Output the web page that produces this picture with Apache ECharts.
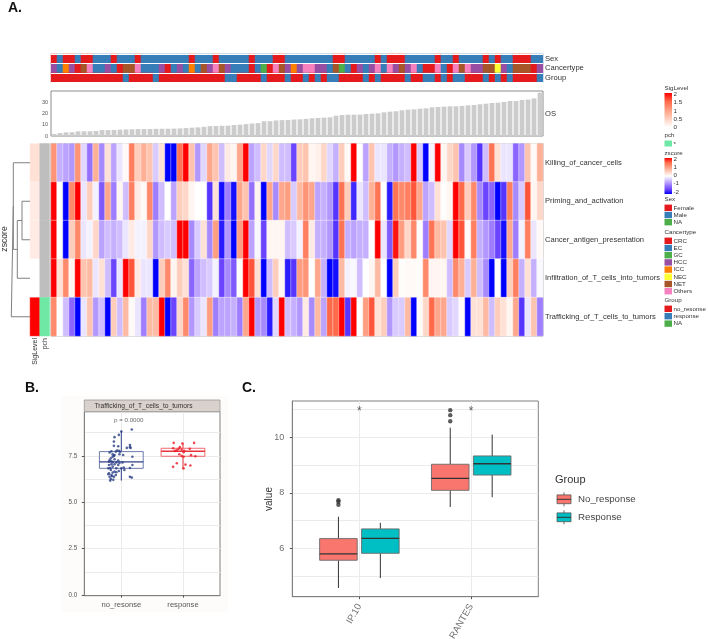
<!DOCTYPE html>
<html>
<head>
<meta charset="utf-8">
<script src="https://cdn.jsdelivr.net/npm/echarts@6/dist/echarts.min.js"></script>
<style>
  html, body { margin: 0; padding: 0; background: #fff; }
  #chart { width: 708px; height: 639px; }
</style>
</head>
<body>
<div id="chart"></div>
<script>
// panel A: row names and zscores, one value per patient
var rowNames = ['Killing_of_cancer_cells', 'Priming_and_activation', 'Cancer_antigen_presentation',
  'Infiltration_of_T_cells_into_tumors', 'Trafficking_of_T_cells_to_tumors'];
var killing = [1.1,-0.6,-0.7,-0.8,1.1,-0.3,-1.1,0.8,-0.9,0.3,-0.7,-0.2,0.05,1.3,0.5,0.8,0.6,-0.4,0.3,-2,-2,1.4,2,0.6,-0.8,-0.3,0.9,0.6,-0.5,0.2,0.1,0.9,2,-0.7,-0.5,0.4,-0.3,0.4,-0.5,-0.5,
  -1.5,0.5,0.6,0.1,0.15,0.4,-0.3,-0.6,0.5,0.05,2,0,-0.7,0.6,-0.2,-0.2,-0.6,-0.8,-0.6,-0.5,2,-0.4,-2,-0.1,2,0.1,0.4,0.6,-0.9,-0.4,-0.8,-1.6,-0.5,1.4,0.3,-0.2,-0.2,-1.2,-0.8,0.6,0.05,0.8];
var priming = [2,0,-2,1.2,2,-0.2,0.5,-0.1,-1.3,0.9,-1,0.1,-0.5,1.3,0.2,0.05,1.2,-1,-0.5,0,-0.7,0.5,0.4,0.1,0,0,-1.6,0.3,-1.9,-1,-1.9,0.9,0.6,-1.1,0.1,-2,0.9,-0.9,0.9,1,
  -0.4,0.7,1.1,0.9,-0.7,-0.6,-0.8,-1.6,1.4,0.5,-1.7,-0.2,-0.5,0.8,1.4,0,-1.8,1.4,1.2,1.3,1.6,0.9,-0.7,-0.5,0.3,0.02,0.1,2,1.5,0.5,1.2,-0.9,-1.5,-1.2,-2,-1.6,1.3,-0.9,-0.4,1.6,0.1,0.4];
var antigen = [2,0,-2,0.5,1.2,-0.2,-0.1,0.4,-0.7,-0.5,-0.6,-0.5,-0.2,0.2,-0.1,-0.1,0.4,-0.8,-0.5,-0.4,-0.5,2,2,-0.9,-0.4,0.3,-0.9,1,-1.8,-0.8,-2,1,2,-0.7,-0.05,-1.5,0.1,0.1,0.1,-0.5,
  -0.4,-0.1,1.3,0.2,-0.6,-0.6,-0.8,-1.6,1.4,-0.6,-0.7,-0.6,-0.6,0,2,-0.2,-1.3,1.9,1,0.4,1.2,0.02,-1,1.4,0.7,0.6,-0.3,2,1.6,0.05,1.3,-0.6,-0.8,-1,-1.5,-1.9,0.9,-1,-0.1,1.3,-0.2,0.05];
var infiltration = [2,0.3,1.2,0.1,2,0.6,0.7,-0.2,0.3,-0.5,-1.5,-0.2,2,1.6,0.2,-0.2,-0.2,-2,0.5,1.2,0.1,0.5,0.3,-1.2,-0.7,-0.5,-0.4,-0.1,-1.5,-0.9,-1.3,0.02,2,1.6,0.3,-2,-0.5,0.5,0.1,-1.8,
  -1.6,1,1.1,0,0.9,-0.6,-2,-1.9,0.7,-0.1,-0.05,-0.5,0,0.1,0.7,0,-2,0.5,0.02,0.05,0.05,0.02,1.2,0.1,0.1,0.1,-0.5,1.2,0.8,-0.4,0.8,-0.5,-0.9,-2,0,-2,0.5,1.3,-0.6,0.3,-0.6,-0.05];
var trafficking = [1.2,0,-0.5,-1.2,-2,-0.2,0.6,-0.8,-0.5,-2,0.5,-0.5,0.7,0.05,-0.2,-1,0.7,0.7,2,-2,-1.5,0.4,1.2,-0.8,-0.4,-0.2,1,-1,-0.7,-0.7,-0.6,-1,0.9,2,-0.8,-0.9,-1.8,-0.3,2,-0.5,
  -0.6,-0.8,0.2,-0.9,0.7,-0.7,1.5,1.5,2,-1.6,2,0,1,1.6,0.3,0.5,-0.8,-0.4,-0.4,0.7,-2,0.05,0.4,1.5,0.9,0.9,-0.4,-0.3,0.05,-2,0.3,0.3,0.7,-0.5,0.5,0.3,0.1,0.9,-1.6,-0.2,0.6,-1];
var zscores = [killing, priming, antigen, infiltration, trafficking];

// annotation tracks, values index into the label lists below
var sexLabels = ['Female', 'Male', 'NA'];
var cancerLabels = ['CRC', 'EC', 'GC', 'HCC', 'ICC', 'NEC', 'NET', 'Others'];
var groupLabels = ['no_resonse', 'response', 'NA'];
var sexTrack = [0,1,0,0,1,0,0,1,1,1,0,1,1,1,0,1,1,1,1,1,1,1,1,0,1,1,1,0,1,1,1,1,1,0,1,1,1,0,0,1,
  1,1,1,1,1,1,1,0,0,1,1,1,1,1,0,1,0,0,0,1,1,1,1,1,0,1,1,0,1,1,1,1,0,1,0,1,1,0,0,0,1,1];
var cancerTrack = [3,1,4,3,0,6,7,1,1,3,1,0,6,6,7,1,1,1,3,0,1,3,1,4,1,6,3,7,6,3,1,1,1,0,1,2,0,7,6,3,
  4,3,7,7,3,3,1,6,2,1,0,3,1,3,7,1,7,3,6,3,7,1,0,0,7,1,0,7,6,7,3,3,6,6,5,3,1,6,6,6,0,3];
var groupTrack = [0,0,0,0,0,0,0,0,0,0,0,0,1,0,0,0,0,1,0,0,0,0,0,0,0,0,0,0,0,1,1,0,0,0,0,1,0,0,0,1,
  0,0,1,0,1,0,1,1,0,0,0,0,1,0,1,0,0,0,0,1,0,0,1,1,0,1,0,1,1,0,0,0,1,0,1,0,1,0,0,0,0,1];
var trackNames = ['Sex', 'Cancertype', 'Group'];
var tracks = [sexTrack, cancerTrack, groupTrack];
var osValues = [1.8,2.6,3.2,3.3,4.1,4.2,4.2,4.4,5.2,5.2,5.3,5.6,5.8,5.9,6.1,6.2,6.2,6.3,6.4,6.4,6.5,6.7,7,7.3,7.6,8.1,8.7,8.8,9,9.1,9.7,10,10.5,11,11.4,13,13.1,13.7,14,14.1,
  14.5,14.7,15.1,15.6,15.9,16.2,16.5,17.9,18.5,18.8,18.8,18.9,19.4,19.7,20,20.9,21.5,21.8,22.7,23.2,23.5,24.1,24.4,25.3,25.6,25.9,26.2,26.2,26.5,27,27.4,28,28.5,29.1,29.4,30,30.9,30.9,31.8,32.1,33.2,38.2];
var sigLevels = [0.3, 0.2, 0.2, 0, 2];
var pchCodes = [0, 0, 0, 0, 1];

// dendrogram merges: [height, row position]
var merges = [
  [[0, 1.5], [8, 1.5], [8, 2.5], [0, 2.5]],
  [[8, 2], [12.7, 2], [12.7, 3.5], [0, 3.5]],
  [[12.7, 2.75], [16.7, 2.75], [16.7, 0.5], [0, 0.5]],
  [[16.7, 1.625], [18.7, 1.625], [18.7, 4.5], [0, 4.5]]
];

// panel B
var bNames = ['no_resonse', 'response'];
var bBoxes = [[6.17, 6.83, 7.18, 7.73, 8.85], [6.78, 7.48, 7.75, 7.91, 8.2]];
var bNoResp = [[1.17,8.92],[1,8.81],[.96,8.63],[.89,8.51],[.88,8.27],[.88,8.04],[.95,8.02],[1.14,8.08],[1.14,7.97],[1.09,7.93],[1.15,7.93],[.84,7.75],[.91,7.73],[.93,7.79],[.96,7.77],[.98,7.72],[.81,7.68],[.86,7.59],[.89,7.55],[1.03,7.55],[1.18,7.45],[.86,7.46],[.88,7.5],[.97,7.59],[.83,7.37],[.81,7.28],[.89,7.32],[.95,7.25],[.84,7.21],[.8,7.19],[.86,7.16],[.92,7.14],[.97,7.12],[1.02,7.14],[.84,7.05],[.89,7.05],[.95,7.01],[1.18,7.01],[.8,7.01],[.86,6.92],[.82,6.85],[.92,6.83],[.79,6.83],[1,6.83],[1.04,6.87],[1.14,6.85],[1.05,6.74],[.83,6.74],[.89,6.65],[.96,6.69],[.8,6.56],[.86,6.6],[.92,6.62],[.79,6.51],[.84,6.47],[.91,6.47],[.81,6.38],[.85,6.42],[.88,6.37],[1.14,6.37],[1.17,6.33],[.83,6.26],[.87,6.21],[.82,6.17]];
var bResp = [[1.85,8.2],[1.99,8.17],[2.18,8.2],[1.84,7.91],[1.95,7.97],[1.93,7.88],[1.9,7.81],[1.87,7.77],[1.98,7.84],[2.02,7.77],[2.11,7.88],[2.01,7.7],[1.94,7.59],[1.98,7.5],[2.01,7.45],[2.13,7.54],[2.2,7.48],[1.9,7.1],[1.84,6.91],[2.04,7.03],[2.12,6.98],[2.01,6.83]];

// panel C
var cNames = ['IP.10', 'RANTES'];
var cNoResponse = [[4.57, 5.57, 5.8, 6.35, 7.14], [7.49, 8.09, 8.52, 9.03, 10.35]];
var cResponse = [[4.93, 5.82, 6.36, 6.7, 6.92], [7.84, 8.64, 9.05, 9.33, 10.1]];
var cOutliers = [[1, 7.73], [1, 7.68], [1, 7.57], [2, 10.98], [2, 10.8], [2, 10.58]];
var cStars = [[1, 11], [2, 11]];

var FONT = '"Liberation Sans", Arial, sans-serif';
var palette = ['#E41A1C', '#377EB8', '#4DAF4A', '#984EA3', '#FF7F00', '#FFFF33', '#A65628', '#F781BF'];
var zColors = ['#0000FF', '#6B44FF', '#9E7DFF', '#CFBDFF', '#FFFFFF', '#FFCDBB', '#FF9E81', '#FF6A4A', '#FF0000'];
var sigColors = ['#FFFFFF', '#FFCDBB', '#FF9E81', '#FF6A4A', '#FF0000'];
var frame = '#8c8c8c';

var patients = zscores[0].map(function (d, i) { return i; });
var grids = [], xAxes = [], yAxes = [], series = [];

function hiddenCat(data, extra) {
  return Object.assign({
    type: 'category', data: data, axisLine: { show: false }, axisTick: { show: false },
    axisLabel: { show: false }, splitLine: { show: false }
  }, extra || {});
}

// annotation tracks
grids.push({ left: 51, top: 54, width: 492, height: 28.5 });
xAxes.push(hiddenCat(patients, { gridIndex: 0 }));
yAxes.push(hiddenCat(trackNames, {
  gridIndex: 0, inverse: true, position: 'right', z: 5,
  axisLabel: { show: true, interval: 0, fontSize: 7.6, fontFamily: FONT, color: '#333', margin: 2 },
  splitLine: { show: true, interval: 0, lineStyle: { color: '#fff', width: 1 } }
}));
var trackData = [];
tracks.forEach(function (track, r) {
  track.forEach(function (code, c) {
    trackData.push({ value: [c, r, code], itemStyle: { color: palette[code] } });
  });
});
series.push({ type: 'heatmap', xAxisIndex: 0, yAxisIndex: 0, data: trackData });

// OS bars
grids.push({ left: 51, top: 91, width: 492, height: 45, show: true, borderColor: frame, borderWidth: 1 });
xAxes.push(hiddenCat(patients, { gridIndex: 1 }));
yAxes.push({
  type: 'value', gridIndex: 1, min: 0, max: 39.7, position: 'left', splitLine: { show: false },
  axisLine: { show: false },
  axisTick: { length: 2, customValues: [0, 10, 20, 30], lineStyle: { color: '#555' } },
  axisLabel: { customValues: [0, 10, 20, 30], fontSize: 5.5, fontFamily: FONT, color: '#555', margin: 3 }
});
yAxes.push(hiddenCat(['OS'], {
  gridIndex: 1, position: 'right',
  axisLabel: { show: true, fontSize: 7.6, fontFamily: FONT, color: '#333', margin: 2 }
}));
series.push({
  type: 'bar', xAxisIndex: 1, yAxisIndex: 1, data: osValues, barWidth: 4.8,
  itemStyle: { color: '#CCCCCC' }
});

// zscore heatmap
grids.push({ left: 51, top: 143.5, width: 492, height: 192.5, show: true, borderColor: frame, borderWidth: 1 });
xAxes.push(hiddenCat(patients, { gridIndex: 2 }));
yAxes.push(hiddenCat(rowNames, {
  gridIndex: 2, inverse: true, position: 'right',
  axisLabel: { show: true, interval: 0, fontSize: 7.55, fontFamily: FONT, color: '#333', margin: 2 }
}));
var heatData = [];
zscores.forEach(function (row, r) {
  row.forEach(function (v, c) { heatData.push([c, r, v]); });
});
var heatIndex = series.length;
series.push({
  type: 'heatmap', xAxisIndex: 2, yAxisIndex: 3, data: heatData,
  itemStyle: { borderColor: 'rgba(255,255,255,0.75)', borderWidth: 0.5 }
});

// SigLevel and pch side columns
grids.push({ left: 30, top: 143.5, width: 19.5, height: 192.5 });
xAxes.push(hiddenCat(['SigLevel', 'pch'], {
  gridIndex: 3,
  axisLabel: { show: true, interval: 0, rotate: 90, fontSize: 7, fontFamily: FONT, color: '#333', margin: 2 }
}));
yAxes.push(hiddenCat(rowNames, { gridIndex: 3, inverse: true }));
var sigIndex = series.length;
series.push({
  type: 'heatmap', xAxisIndex: 3, yAxisIndex: 4,
  data: sigLevels.map(function (v, r) { return [0, r, v]; }),
  itemStyle: { borderColor: '#fff', borderWidth: 0.3 }
});
series.push({
  type: 'heatmap', xAxisIndex: 3, yAxisIndex: 4,
  data: pchCodes.map(function (code, r) {
    return { value: [1, r, code], itemStyle: { color: code ? '#6FE8A6' : '#BEBEBE' } };
  })
});

// dendrogram
grids.push({ left: 10, top: 143.5, width: 20, height: 192.5 });
xAxes.push({ type: 'value', gridIndex: 4, min: 0, max: 20, inverse: true, show: false });
yAxes.push({ type: 'value', gridIndex: 4, min: 0, max: 5, inverse: true, show: false });
merges.forEach(function (m) {
  series.push({
    type: 'line', xAxisIndex: 4, yAxisIndex: 5, data: m, symbol: 'none', silent: true,
    lineStyle: { color: '#808080', width: 1 }
  });
});

// box drawing shared by B and C
function boxSeries(xi, yi, rows, dodge, half, fill, line, median, medianWidth) {
  return {
    type: 'custom', xAxisIndex: xi, yAxisIndex: yi,
    data: rows.map(function (b, i) { return [i + 1].concat(b); }),
    encode: { x: 0, y: [1, 2, 3, 4, 5] },
    renderItem: function (params, api) {
      var x = api.value(0) + dodge;
      var cx = api.coord([x, 0])[0], x0 = api.coord([x - half, 0])[0], x1 = api.coord([x + half, 0])[0];
      var lo = api.coord([x, api.value(1)])[1], q1 = api.coord([x, api.value(2)])[1];
      var med = api.coord([x, api.value(3)])[1], q3 = api.coord([x, api.value(4)])[1];
      var hi = api.coord([x, api.value(5)])[1];
      var ls = { stroke: median, lineWidth: 1, fill: null };
      return {
        type: 'group',
        children: [
          { type: 'line', shape: { x1: cx, y1: lo, x2: cx, y2: q1 }, style: ls },
          { type: 'line', shape: { x1: cx, y1: q3, x2: cx, y2: hi }, style: ls },
          { type: 'rect', shape: { x: x0, y: q3, width: x1 - x0, height: q1 - q3 }, style: { fill: fill, stroke: line, lineWidth: 0.9 } },
          { type: 'line', shape: { x1: x0, y1: med, x2: x1, y2: med }, style: { stroke: median, lineWidth: medianWidth } }
        ]
      };
    }
  };
}

function boxPanel(gi, top, left, width, height, yMin, yMax, lines, major, names, tickFont, catFont, rotate, textColor, tickMargin) {
  grids.push({ left: left, top: top, width: width, height: height, outerBoundsMode: 'none', show: true, borderColor: '#808080', borderWidth: 1, backgroundColor: '#fff' });
  xAxes.push({
    type: 'value', gridIndex: gi, min: 0.4, max: 2.6, position: 'bottom',
    axisLine: { lineStyle: { color: '#808080' } },
    axisTick: { customValues: [1, 2], length: 2.5, lineStyle: { color: '#555' } },
    axisLabel: {
      customValues: [1, 2], rotate: rotate, fontSize: catFont, fontFamily: FONT, color: textColor,
      margin: rotate ? 8 : 5, lineHeight: rotate ? 20 : catFont,
      formatter: function (v) { return names[v - 1]; }
    },
    splitLine: { show: true, lineStyle: { color: '#EBEBEB', width: 1 } }
  });
  yAxes.push({
    type: 'value', gridIndex: gi, min: yMin, max: yMax, position: 'left',
    axisLine: { show: false }, axisTick: { show: false, customValues: lines }, axisLabel: { show: false, customValues: lines },
    splitLine: { show: true, lineStyle: { color: '#EBEBEB', width: 1 } }
  });
  yAxes.push({
    type: 'value', gridIndex: gi, min: yMin, max: yMax, position: 'left',
    axisLine: { lineStyle: { color: '#808080' } },
    axisTick: { customValues: major, length: 2.5, lineStyle: { color: '#555' } },
    axisLabel: {
      customValues: major, fontSize: tickFont, fontFamily: FONT, color: textColor, margin: tickMargin,
      formatter: function (v) { return rotate ? String(v) : v.toFixed(1); }
    },
    splitLine: { show: false }
  });
}

// panel B
boxPanel(5, 411.7, 84.3, 135.7, 184, -0.03, 9.88, [0, 1.25, 2.5, 3.75, 5, 6.25, 7.5, 8.75], [0, 2.5, 5, 7.5], bNames, 6.3, 7.6, 0, '#555', 7);
var bY = yAxes.length - 2;
series.push(boxSeries(5, bY, [bBoxes[0]], 0, 0.355, 'rgba(255,255,255,0)', '#5A6CA6', '#2B3F86', 1.3));
series.push(boxSeries(5, bY, [bBoxes[1]], 1, 0.355, 'rgba(255,255,255,0)', '#EE5A60', '#E8343C', 1.3));
series.push({ type: 'scatter', xAxisIndex: 5, yAxisIndex: bY, data: bNoResp, symbolSize: 2.6, itemStyle: { color: '#2B3F86' } });
series.push({ type: 'scatter', xAxisIndex: 5, yAxisIndex: bY, data: bResp, symbolSize: 2.6, itemStyle: { color: '#EE1C25' } });
series.push({
  type: 'scatter', xAxisIndex: 5, yAxisIndex: bY, data: [[1.12, 9.4]], symbolSize: 0,
  label: { show: true, position: 'inside', formatter: 'p = 0.0000', fontSize: 6.2, fontFamily: FONT, color: '#444' }
});

// panel C
boxPanel(6, 401, 292.3, 246, 195.7, 4.256, 11.31, [5, 6, 7, 8, 9, 10, 11], [6, 8, 10], cNames, 9, 9.5, 60, '#6e6e6e', 8);
var cY = yAxes.length - 2;
var DODGE = 0.1875;
series.push(boxSeries(6, cY, cNoResponse, -DODGE, 0.168, '#F8766D', '#6a6a6a', '#333', 1.4));
series.push(boxSeries(6, cY, cResponse, DODGE, 0.168, '#00BFC4', '#6a6a6a', '#333', 1.4));
series.push({
  type: 'scatter', xAxisIndex: 6, yAxisIndex: cY, symbolSize: 4.4, itemStyle: { color: '#333' },
  data: cOutliers.map(function (p) { return [p[0] - DODGE, p[1]]; })
});
series.push({
  type: 'scatter', xAxisIndex: 6, yAxisIndex: cY, data: cStars, symbolSize: 0,
  label: { show: true, position: 'inside', formatter: '*', fontSize: 12, offset: [0, 2], fontFamily: FONT, color: '#333' }
});

// legends and free text
var gfx = [];
function text(x, y, s, size, opts) {
  gfx.push({
    type: 'text', x: x, y: y, silent: true, rotation: (opts && opts.rotation) || 0, z: 20,
    style: {
      text: s, fontSize: size, fontFamily: FONT, fontWeight: (opts && opts.weight) || 'normal',
      fill: (opts && opts.color) || '#333', align: (opts && opts.align) || 'left', verticalAlign: 'middle'
    }
  });
}
function rect(x, y, w, h, fill, stroke) {
  gfx.push({ type: 'rect', silent: true, z: 20, shape: { x: x, y: y, width: w, height: h }, style: { fill: fill, stroke: stroke || null, lineWidth: 0.8 } });
}
function gradientKey(x, y, w, h, colors) {
  gfx.push({
    type: 'rect', silent: true, z: 20, shape: { x: x, y: y, width: w, height: h },
    style: {
      fill: {
        type: 'linear', x: 0, y: 1, x2: 0, y2: 0,
        colorStops: colors.map(function (c, i) { return { offset: i / (colors.length - 1), color: c }; })
      }
    }
  });
}
text(8, 8, 'A.', 14, { weight: 'bold', color: '#111' });
text(25, 388, 'B.', 14, { weight: 'bold', color: '#111' });
text(242, 388, 'C.', 14, { weight: 'bold', color: '#111' });
text(5, 239, 'zscore', 8.6, { rotation: Math.PI / 2, align: 'center' });

var LX = 664.5;
text(LX, 88, 'SigLevel', 6.2);
gradientKey(LX, 93, 7.5, 34, sigColors);
['2', '1.5', '1', '0.5', '0'].forEach(function (s, i) { text(LX + 9, 94.5 + i * 8.2, s, 6.2); });
text(LX, 135, 'pch', 6.2);
rect(LX, 140.5, 7.5, 6, '#6FE8A6');
text(LX + 9, 144, '*', 6.2);
text(LX, 153, 'zscore', 6.2);
gradientKey(LX, 158, 7.5, 36, zColors);
['2', '1', '0', '-1', '-2'].forEach(function (s, i) { text(LX + 9, 159 + i * 8.2, s, 6.2); });

function catLegend(title, y, labels, step) {
  text(LX, y, title, 6.2);
  labels.forEach(function (s, i) {
    var cy = y + 8.8 + i * step;
    rect(LX, cy - 3.2, 7.5, 6.4, palette[i]);
    text(LX + 9, cy, s, 6.2);
  });
}
catLegend('Sex', 199, sexLabels, 7.2);
catLegend('Cancertype', 232, cancerLabels, 7.2);
catLegend('Group', 300, groupLabels, 7.4);

// panel B strip and surround
gfx.push({ type: 'rect', silent: true, z: -1, shape: { x: 62, y: 396, width: 166, height: 216 }, style: { fill: '#FEFCFA' } });
rect(84.3, 400, 135.7, 11.7, '#D9D1CB', '#999');
text(94.5, 405.8, 'Trafficking_of_T_cells_to_tumors', 6.7, { color: '#333' });

// panel C legend
text(269, 499, 'value', 10, { rotation: Math.PI / 2, align: 'center', color: '#333' });
text(555, 480, 'Group', 11, { color: '#333' });
[['No_response', '#F8766D', 499.3], ['Response', '#00BFC4', 517.3]].forEach(function (k) {
  gfx.push({ type: 'line', silent: true, z: 20, shape: { x1: 564, y1: k[2] - 7, x2: 564, y2: k[2] + 7 }, style: { stroke: '#444', lineWidth: 0.8 } });
  rect(557, k[2] - 4.4, 14, 8.8, k[1], '#555');
  gfx.push({ type: 'line', silent: true, z: 20, shape: { x1: 557, y1: k[2], x2: 571, y2: k[2] }, style: { stroke: '#333', lineWidth: 1 } });
  text(578, k[2], k[0], 9.7, { color: '#444' });
});

var myChart = echarts.init(document.getElementById('chart'), null, { renderer: 'canvas' });
myChart.setOption({
  animation: false,
  backgroundColor: '#fff',
  textStyle: { fontFamily: FONT },
  grid: grids,
  xAxis: xAxes,
  yAxis: yAxes,
  visualMap: [
    { show: false, seriesIndex: heatIndex, min: -2, max: 2, dimension: 2, inRange: { color: zColors } },
    { show: false, seriesIndex: sigIndex, min: 0, max: 2, dimension: 2, inRange: { color: sigColors } }
  ],
  series: series,
  graphic: { elements: gfx }
});
</script>
</body>
</html>
